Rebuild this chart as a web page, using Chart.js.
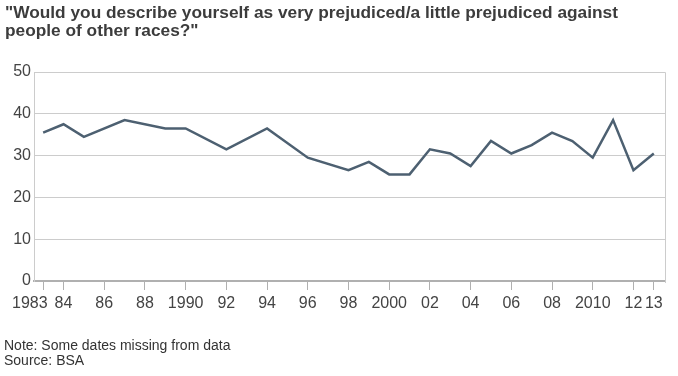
<!DOCTYPE html>
<html>
<head>
<meta charset="utf-8">
<script src="https://cdn.jsdelivr.net/npm/chart.js@4.4.0/dist/chart.umd.min.js"></script>
<style>
  body { margin: 0; background: #fff; font-family: "Liberation Sans", Arial, sans-serif; }
  #wrap { position: relative; width: 678px; height: 376px; }
  #title { position: absolute; left: 5px; top: 3px; font-weight: bold; font-size: 17.3px; line-height: 18px; color: #3c3c3c; }
  #note { position: absolute; left: 4px; top: 338px; font-size: 14px; line-height: 15px; color: #333; }
  canvas { position: absolute; left: 0; top: 0; }
</style>
</head>
<body>
<div id="wrap">
  <canvas id="chart" width="678" height="376"></canvas>
  <div id="title">"Would you describe yourself as very prejudiced/a little prejudiced against<br>people of other races?"</div>
  <div id="note">Note: Some dates missing from data<br>Source: BSA</div>
</div>
<script>
// survey years with data (gaps = years missing from data)
var years = [1983, 1984, 1985, 1987, 1989, 1990, 1992, 1994, 1996, 1998, 1999, 2000, 2001,
             2002, 2003, 2004, 2005, 2006, 2007, 2008, 2009, 2010, 2011, 2012, 2013]
var prejudiced = [35.5, 37.5, 34.5, 38.5, 36.5, 36.5, 31.5, 36.5, 29.5, 26.5, 28.5, 25.5, 25.5,
                  31.5, 30.5, 27.5, 33.5, 30.5, 32.5, 35.5, 33.5, 29.5, 38.5, 26.5, 30.5]

var tickYears = [1983, 1984, 1986, 1988, 1990, 1992, 1994, 1996, 1998, 2000, 2002, 2004, 2006, 2008, 2010, 2012, 2013]
var tickLabels = ['1983', '84', '86', '88', '1990', '92', '94', '96', '98', '2000', '02', '04', '06', '08', '2010', '12', '13']

var points = years.map(function(y, i) { return {x: y, y: prejudiced[i]} })

// light box round the plot area (top/right edges)
var frame = {
  id: 'frame',
  afterDraw: function(chart) {
    var a = chart.chartArea, ctx = chart.ctx
    ctx.save()
    ctx.strokeStyle = '#cccccc'
    ctx.lineWidth = 1
    ctx.beginPath()
    ctx.moveTo(a.left, a.top + 0.5)
    ctx.lineTo(a.right + 0.5, a.top + 0.5)
    ctx.lineTo(a.right + 0.5, a.bottom + 2)
    ctx.stroke()
    ctx.restore()
  }
}

new Chart(document.getElementById('chart'), {
  type: 'line',
  data: {
    datasets: [{
      data: points,
      borderColor: '#4d6071',
      borderWidth: 2.5,
      pointRadius: 0,
      fill: false,
      tension: 0
    }]
  },
  plugins: [frame],
  options: {
    responsive: false,
    animation: false,
    layout: { padding: { top: 72, right: 13, bottom: 63, left: 0 } },
    plugins: { legend: { display: false }, tooltip: { enabled: false } },
    scales: {
      x: {
        type: 'linear',
        min: 1982.55,
        max: 2013.55,
        afterBuildTicks: function(scale) {
          scale.ticks = tickYears.map(function(v) { return {value: v} })
        },
        afterFit: function(scale) { scale.height = 32 },
        grid: { drawOnChartArea: false, drawTicks: true, tickLength: 9, color: '#b0b0b0', lineWidth: 1 },
        border: { display: true, color: '#b0b0b0', width: 2 },
        ticks: {
          autoSkip: false,
          maxRotation: 0,
          padding: 4,
          color: '#444',
          font: { family: '"Liberation Sans", Arial, sans-serif', size: 16 },
          callback: function(value, index) {
            // first label sits left of its tick so it clears "84"
            return index === 0 ? tickLabels[index] + '      ' : tickLabels[index]
          }
        }
      },
      y: {
        min: 0,
        max: 50,
        afterFit: function(scale) { scale.width = 34 },
        grid: { color: '#cccccc', drawTicks: false },
        border: { display: true, color: '#cccccc' },
        ticks: {
          stepSize: 10,
          padding: 3,
          color: '#444',
          font: { family: '"Liberation Sans", Arial, sans-serif', size: 16 }
        }
      }
    }
  }
})
</script>
</body>
</html>
